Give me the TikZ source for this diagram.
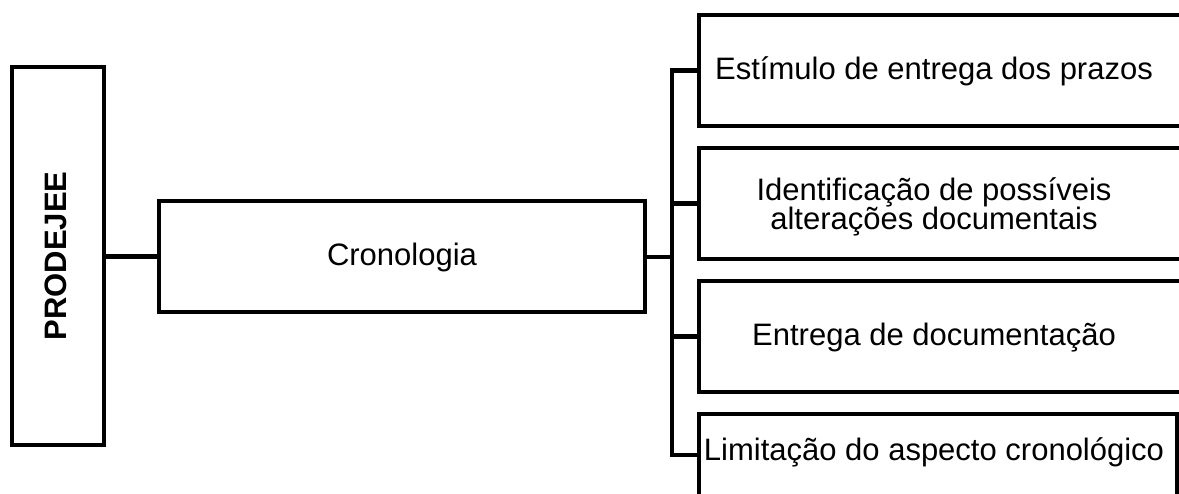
\documentclass[tikz,border=0pt]{standalone}
\usepackage{fontspec}
\setmainfont{Liberation Sans}
\begin{document}
\begin{tikzpicture}[x=1pt,y=-1pt,
  frame/.style={draw=black,line width=4.6pt,rectangle,inner sep=0pt},
  label/.style={inner sep=0pt,align=center,font=\fontsize{31}{29.5}\selectfont},
  link/.style={draw=black,line width=4.6pt}]
  \useasboundingbox (0,0) rectangle (1179,494);

  % root box with vertical title
  \node[frame,minimum width=92pt,minimum height=378pt] (pro) at (58,256) {};
  \node[label,font=\fontsize{31}{30}\selectfont\bfseries,rotate=90] (protxt) at (56,256) {PRODEJEE};

  % middle box
  \node[frame,minimum width=486pt,minimum height=111pt] (cron) at (402,256.5) {};
  \node[label] (crontxt) at (402,257) {Cronologia};

  % right-hand boxes
  \node[frame,minimum width=485pt,minimum height=111pt] (b1) at (941.5,70.5) {};
  \node[frame,minimum width=485pt,minimum height=111pt] (b2) at (941.5,203.5) {};
  \node[frame,minimum width=485pt,minimum height=111pt] (b3) at (941.5,336.5) {};
  \node[frame,minimum width=478pt,minimum height=111pt] (b4) at (938,469.5) {};

  \node[label] (t1) at (934,71) {Estímulo de entrega dos prazos};
  \node[label] (t2) at (934,207) {Identificação de possíveis\\alterações documentais};
  \node[label] (t3) at (934,338) {Entrega de documentação};
  \node[label] (t4) at (934,452) {Limitação do aspecto cronológico};

  % connectors
  \coordinate (bus) at (672,257);
  \coordinate (b4in) at (699,455);
  \draw[link] (pro.east |- cron.west) -- (cron.west);
  \draw[link] (cron.east |- bus) -- (bus);
  \draw[link] (b1.west) -| (bus);
  \draw[link] (b2.west) -| (bus);
  \draw[link] (b3.west) -| (bus);
  \draw[link] (b4in) -| (bus);
\end{tikzpicture}
\end{document}
